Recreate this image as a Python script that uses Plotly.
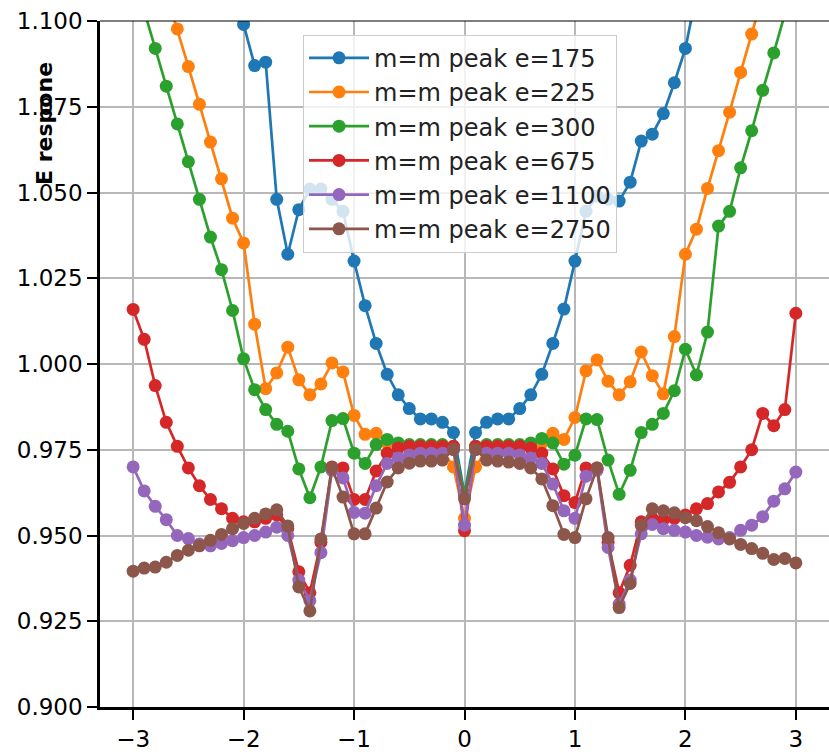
import plotly.graph_objects as go

X = [-3.0, -2.9, -2.8, -2.7, -2.6, -2.5, -2.4, -2.3, -2.2, -2.1,
     -2.0, -1.9, -1.8, -1.7, -1.6, -1.5, -1.4, -1.3, -1.2, -1.1,
     -1.0, -0.9, -0.8, -0.7, -0.6, -0.5, -0.4, -0.3, -0.2, -0.1,
     0.0, 0.1, 0.2, 0.3, 0.4, 0.5, 0.6, 0.7, 0.8, 0.9,
     1.0, 1.1, 1.2, 1.3, 1.4, 1.5, 1.6, 1.7, 1.8, 1.9,
     2.0, 2.1, 2.2, 2.3, 2.4, 2.5, 2.6, 2.7, 2.8, 2.9, 3.0]

E175 = [1.30, 1.28, 1.26, 1.24, 1.22, 1.20, 1.18, 1.16, 1.14, 1.118,
        1.099, 1.087, 1.088, 1.048, 1.032, 1.045, 1.051, 1.051, 1.048, 1.0445,
        1.030, 1.017, 1.006, 0.997, 0.991, 0.987, 0.984, 0.984, 0.983, 0.980,
        0.962, 0.980, 0.983, 0.984, 0.984, 0.987, 0.991, 0.997, 1.006, 1.016,
        1.030, 1.0445, 1.049, 1.048, 1.0475, 1.053, 1.065, 1.067, 1.073, 1.082,
        1.092, 1.108, 1.13, 1.15, 1.17, 1.19, 1.21, 1.23, 1.25, 1.27, 1.29]

E225 = [1.14, 1.13, 1.12, 1.108, 1.0977, 1.0867, 1.0757, 1.0647, 1.054, 1.0425,
        1.0353, 1.0116, 0.9928, 0.9974, 1.0049, 0.9954, 0.991, 0.9942, 1.0003, 0.9977,
        0.985, 0.9795, 0.9798, 0.977, 0.976, 0.9755, 0.9755, 0.975, 0.975, 0.970,
        0.955, 0.970, 0.975, 0.975, 0.9755, 0.9755, 0.976, 0.977, 0.9798, 0.978,
        0.9844, 0.998, 1.0012, 0.995, 0.991, 0.9948, 1.0035, 0.9966, 0.9913, 1.008,
        1.032, 1.0393, 1.0512, 1.0622, 1.0734, 1.085, 1.0962, 1.108, 1.12, 1.13, 1.14]

E300 = [1.115, 1.103, 1.092, 1.081, 1.070, 1.059, 1.048, 1.037, 1.0275, 1.0156,
        1.0015, 0.9925, 0.9867, 0.9824, 0.9804, 0.9694, 0.961, 0.970, 0.9835, 0.9841,
        0.974, 0.971, 0.9765, 0.978, 0.977, 0.9765, 0.9765, 0.9765, 0.9765, 0.976,
        0.962, 0.976, 0.9765, 0.9765, 0.9765, 0.9765, 0.977, 0.9783, 0.977, 0.9708,
        0.9734, 0.984, 0.9838, 0.972, 0.962, 0.969, 0.980, 0.9824, 0.9856, 0.9922,
        1.0043, 0.9968, 1.0093, 1.0402, 1.0445, 1.0572, 1.068, 1.0798, 1.0907, 1.102, 1.115]

E675 = [1.0159, 1.0072, 0.9937, 0.983, 0.976, 0.9697, 0.9645, 0.9605, 0.9578, 0.955,
        0.954, 0.954, 0.955, 0.956, 0.952, 0.9394, 0.9333, 0.948, 0.970, 0.9697,
        0.9605, 0.9605, 0.9688, 0.974, 0.9755, 0.976, 0.976, 0.976, 0.976, 0.976,
        0.9514, 0.976, 0.976, 0.976, 0.976, 0.976, 0.9755, 0.974, 0.9694, 0.9616,
        0.9596, 0.9697, 0.9697, 0.948, 0.9333, 0.9413, 0.954, 0.955, 0.9545, 0.955,
        0.956, 0.9578, 0.9593, 0.9627, 0.9655, 0.970, 0.975, 0.9856, 0.982, 0.9867, 1.0148]

E1100 = [0.970, 0.963, 0.9585, 0.9546, 0.950, 0.9491, 0.9475, 0.947, 0.9477, 0.9485,
         0.9494, 0.950, 0.951, 0.9524, 0.950, 0.937, 0.931, 0.945, 0.969, 0.9668,
         0.9567, 0.9565, 0.9645, 0.971, 0.9726, 0.9735, 0.974, 0.974, 0.974, 0.975,
         0.953, 0.975, 0.974, 0.974, 0.974, 0.9735, 0.9726, 0.971, 0.965, 0.9572,
         0.955, 0.9673, 0.969, 0.9465, 0.930, 0.937, 0.9505, 0.9532, 0.952, 0.9515,
         0.951, 0.950, 0.9495, 0.949, 0.9494, 0.9515, 0.953, 0.9555, 0.960, 0.9636, 0.9685]

E2750 = [0.9396, 0.9405, 0.9408, 0.9422, 0.9442, 0.9457, 0.947, 0.9486, 0.9503, 0.952,
         0.9535, 0.955, 0.9563, 0.9575, 0.9528, 0.935, 0.928, 0.949, 0.9697, 0.9612,
         0.9505, 0.9505, 0.958, 0.9656, 0.9697, 0.9711, 0.9717, 0.9717, 0.972, 0.9751,
         0.9607, 0.9751, 0.972, 0.9717, 0.9714, 0.971, 0.9697, 0.9665, 0.9587, 0.9503,
         0.9494, 0.9607, 0.9697, 0.9494, 0.929, 0.936, 0.953, 0.9578, 0.9572, 0.9566,
         0.9552, 0.9543, 0.9526, 0.9508, 0.949, 0.9474, 0.9462, 0.9448, 0.943, 0.9433, 0.942]

NAMES = ["m=m peak e=175", "m=m peak e=225", "m=m peak e=300",
         "m=m peak e=675", "m=m peak e=1100", "m=m peak e=2750"]
SERIES = [E175, E225, E300, E675, E1100, E2750]
COLORS = ["#1f77b4", "#ff7f0e", "#2ca02c", "#d62728", "#9467bd", "#8c564b"]

Y_TICKS = [0.900, 0.925, 0.950, 0.975, 1.000, 1.025, 1.050, 1.075, 1.100]
X_TICKS = [-3, -2, -1, 0, 1, 2, 3]

FONT = "DejaVu Sans"

fig = go.Figure()
for name, ys, col in zip(NAMES, SERIES, COLORS):
    fig.add_trace(go.Scatter(
        x=X, y=ys, name=name, mode="lines+markers",
        line=dict(color=col, width=2.7),
        marker=dict(color=col, size=13, symbol="circle"),
    ))

fig.update_layout(
    width=829, height=752,
    margin=dict(l=100, r=0, t=21, b=39),
    plot_bgcolor="white", paper_bgcolor="white",
    font=dict(family=FONT, size=23, color="black"),
    showlegend=True,
    legend=dict(
        x=0.2785, y=0.98, xanchor="left", yanchor="top",
        bgcolor="rgba(255,255,255,0.8)", bordercolor="#cccccc", borderwidth=1,
        font=dict(family=FONT, size=24, color="#222222"),
        itemwidth=60,
        tracegroupgap=0,
    ),
    xaxis=dict(
        range=[-3.3, 3.3], tickvals=X_TICKS, ticktext=["\u22123", "\u22122", "\u22121", "0", "1", "2", "3"],
        showgrid=True, gridcolor="#b8b8b8", gridwidth=1.5,
        showline=True, linecolor="black", linewidth=2.5,
        ticks="outside", ticklen=10, tickwidth=2, tickcolor="black",
        zeroline=False,
    ),
    yaxis=dict(
        range=[0.9, 1.1], tickvals=Y_TICKS, ticktext=["%.3f" % v for v in Y_TICKS],
        showgrid=True, gridcolor="#b8b8b8", gridwidth=1.5,
        showline=True, linecolor="black", linewidth=2.5,
        ticks="outside", ticklen=10, tickwidth=2, tickcolor="black",
        zeroline=False,
    ),
    shapes=[dict(type="line", xref="paper", yref="paper", x0=0, x1=1, y0=1, y1=1,
                 line=dict(color="black", width=1.2))],
    annotations=[dict(
        text="<b>E respone</b>", textangle=-90, xref="paper", yref="paper",
        x=-0.0754, y=0.85, xanchor="center", yanchor="middle", showarrow=False,
        font=dict(family=FONT, size=22, color="black"),
    )],
)

fig.write_html("out.html")
